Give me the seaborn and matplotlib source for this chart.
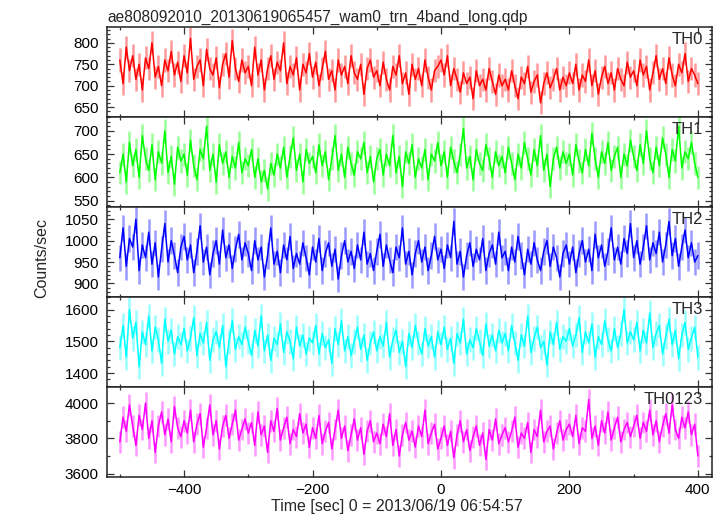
import numpy as np
import pandas as pd
import matplotlib
matplotlib.use("Agg")
import matplotlib.pyplot as plt
from matplotlib.ticker import MultipleLocator
import seaborn as sns

# time bins (sec), 0 = 2013/06/19 06:54:57
time_sec = np.arange(-500, 401, 5)

th0 = [
    760, 705, 790, 735, 770, 715, 750, 690, 765, 740, 800, 720, 745, 700, 760, 735, 780, 725, 755, 710,
    770, 730, 810, 715, 745, 760, 700, 785, 740, 725, 765, 695, 750, 775, 720, 805, 740, 710, 760, 730,
    745, 700, 790, 725, 760, 690, 740, 770, 715, 755, 735, 800, 705, 745, 725, 765, 690, 750, 730, 775,
    720, 755, 700, 740, 780, 715, 735, 690, 760, 725, 745, 705, 770, 730, 715, 750, 680, 740, 760, 720,
    735, 700, 755, 715, 690, 745, 725, 770, 705, 730, 680, 750, 715, 740, 700, 760, 720, 690, 735, 745,
    760, 725, 770, 700, 740, 715, 685, 730, 705, 720, 670, 735, 700, 715, 690, 740, 710, 680, 725, 700,
    715, 690, 735, 700, 670, 720, 705, 745, 685, 710, 725, 660, 705, 730, 695, 715, 740, 690, 720, 700,
    730, 705, 750, 690, 725, 710, 760, 700, 735, 680, 720, 745, 705, 730, 690, 740, 715, 700, 755, 720,
    735, 700, 760, 725, 745, 690, 730, 770, 715, 740, 705, 765, 725, 700, 750, 730, 775, 710, 740, 725,
    705,
]
th1 = [
    610, 650, 590, 675, 625, 660, 600, 690, 640, 615, 670, 595, 655, 630, 700, 610, 645, 585, 665, 635,
    650, 605, 680, 625, 595, 660, 640, 710, 615, 650, 590, 670, 630, 655, 600, 645, 620, 675, 610, 640,
    625, 660, 600, 640, 590, 615, 575, 630, 605, 650, 620, 665, 600, 645, 685, 615, 650, 590, 660, 630,
    645, 610, 670, 625, 655, 595, 640, 690, 615, 650, 600, 665, 630, 605, 655, 640, 675, 610, 645, 590,
    640, 660, 605, 650, 625, 690, 610, 645, 580, 655, 630, 670, 600, 640, 620, 660, 595, 650, 635, 675,
    625, 655, 600, 665, 635, 610, 650, 705, 620, 645, 595, 660, 630, 615, 670, 640, 600, 655, 625, 645,
    610, 665, 630, 595, 650, 620, 675, 640, 605, 660, 625, 690, 615, 650, 580, 640, 665, 620, 655, 630,
    650, 605, 670, 635, 610, 660, 625, 695, 640, 600, 655, 630, 675, 615, 645, 665, 600, 650, 625, 680,
    645, 615, 670, 630, 700, 640, 610, 665, 625, 685, 650, 600, 660, 635, 710, 620, 655, 640, 675, 630,
    600,
]
th2 = [
    960, 1030, 940, 1005, 985, 1050, 930, 990, 960, 1020, 945, 995, 915, 980, 1040, 950, 1000, 965, 925, 985,
    1010, 955, 990, 925, 975, 1035, 950, 985, 920, 970, 1000, 945, 1025, 960, 990, 935, 980, 1015, 955, 995,
    970, 930, 1000, 955, 985, 915, 965, 1030, 945, 975, 925, 990, 955, 1010, 935, 970, 945, 995, 960, 920,
    985, 950, 1005, 930, 970, 995, 940, 980, 910, 965, 1000, 950, 975, 935, 990, 955, 1020, 945, 970, 930,
    975, 1015, 940, 990, 955, 925, 985, 960, 1030, 945, 975, 920, 970, 1000, 950, 985, 930, 965, 1010, 955,
    980, 935, 990, 960, 1045, 945, 975, 915, 965, 995, 940, 980, 955, 1005, 930, 970, 990, 945, 1020, 960,
    975, 930, 985, 950, 1010, 965, 920, 980, 945, 995, 955, 930, 975, 1000, 940, 985, 960, 915, 970, 990,
    945, 985, 925, 970, 1000, 950, 980, 930, 1015, 960, 990, 940, 975, 1030, 955, 985, 945, 1005, 970, 1040,
    960, 1000, 945, 985, 1035, 955, 995, 970, 1020, 950, 990, 1045, 965, 1005, 940, 985, 1025, 960, 995, 950,
    965,
]
th3 = [
    1480, 1550, 1450, 1600, 1510, 1560, 1420, 1530, 1490, 1580, 1470, 1545, 1505, 1430, 1570, 1500, 1535, 1460, 1515, 1490,
    1540, 1470, 1510, 1575, 1455, 1525, 1495, 1560, 1440, 1505, 1530, 1480, 1550, 1420, 1500, 1565, 1475, 1515, 1490, 1545,
    1500, 1455, 1535, 1485, 1580, 1470, 1520, 1440, 1510, 1490, 1555, 1465, 1530, 1500, 1445, 1545, 1485, 1520, 1460, 1510,
    1495, 1550, 1460, 1525, 1480, 1505, 1430, 1540, 1490, 1565, 1470, 1515, 1455, 1500, 1545, 1475, 1520, 1440, 1495, 1530,
    1470, 1515, 1485, 1560, 1450, 1505, 1535, 1465, 1500, 1420, 1525, 1480, 1550, 1495, 1460, 1540, 1485, 1515, 1450, 1530,
    1490, 1545, 1475, 1510, 1430, 1525, 1495, 1570, 1460, 1505, 1480, 1540, 1500, 1455, 1555, 1485, 1520, 1470, 1535, 1495,
    1525, 1470, 1550, 1495, 1440, 1520, 1485, 1580, 1465, 1510, 1545, 1480, 1500, 1425, 1530, 1490, 1560, 1475, 1515, 1500,
    1540, 1485, 1520, 1575, 1465, 1530, 1495, 1555, 1450, 1515, 1490, 1565, 1505, 1470, 1540, 1480, 1525, 1600, 1495, 1530,
    1505, 1560, 1470, 1535, 1495, 1590, 1480, 1525, 1550, 1460, 1515, 1570, 1490, 1535, 1445, 1520, 1560, 1475, 1510, 1545,
    1450,
]
th0123 = [
    3780, 3920, 3840, 3990, 3870, 3760, 3930, 3850, 4000, 3800, 3900, 3720, 3870, 3950, 3820, 3910, 3780, 3980, 3860, 3810,
    3900, 3830, 3960, 3780, 3880, 3940, 3750, 3860, 3990, 3820, 3900, 3740, 3870, 3930, 3800, 3880, 3960, 3790, 3850, 3910,
    3830, 3890, 3760, 3950, 3820, 3870, 3720, 3900, 3840, 3970, 3790, 3860, 3920, 3770, 3850, 3810, 3940, 3830, 3880, 3750,
    3860, 3800, 3930, 3770, 3840, 3890, 3740, 3850, 3960, 3800, 3870, 3730, 3820, 3910, 3790, 3860, 3710, 3840, 3900, 3780,
    3830, 3770, 3880, 3810, 3940, 3760, 3850, 3700, 3820, 3890, 3790, 3840, 3750, 3870, 3810, 3960, 3770, 3830, 3880, 3740,
    3800, 3870, 3760, 3840, 3690, 3820, 3900, 3780, 3850, 3730, 3810, 3870, 3760, 3830, 3680, 3850, 3790, 3910, 3770, 3820,
    3860, 3780, 3840, 3920, 3750, 3830, 3800, 3890, 3720, 3850, 3810, 3960, 3780, 3840, 3870, 3740, 3830, 3900, 3790, 3850,
    3880, 3810, 3930, 3770, 3860, 3840, 4020, 3800, 3870, 3760, 3900, 3830, 3950, 3790, 3860, 3920, 3780, 3850, 3890, 3810,
    3870, 3930, 3800, 3890, 3840, 3960, 3820, 3900, 3780, 3870, 3940, 3830, 3990, 3850, 3800, 3920, 3860, 3950, 3820, 3880,
    3700,
]

band_names = ["TH0", "TH1", "TH2", "TH3", "TH0123"]
band_values = [th0, th1, th2, th3, th0123]
band_errors = [27, 25, 31, 39, 62]  # typical 1-sigma per bin
band_colors = ["#ff0000", "#00ff00", "#0000ff", "#00ffff", "#ff00ff"]
y_limits = [(627, 837), (536, 730), (868, 1079), (1356, 1640), (3581, 4091)]
y_major = [50, 50, 50, 100, 200]
y_minor = [10, 10, 10, 20, 100]

sns.set_style("ticks")
plt.rcParams["font.family"] = ["Liberation Sans", "DejaVu Sans"]

fig = plt.figure(figsize=(7.24, 5.16), dpi=100)
left, width = 107 / 724, 605 / 724
panel_h = 90 / 516
top = 1 - 27 / 516

axes = []
for i, name in enumerate(band_names):
    ax = fig.add_axes([left, top - (i + 1) * panel_h, width, panel_h])
    vals = band_values[i]
    # error bars: light shade around the curve
    ax.errorbar(time_sec, vals, yerr=band_errors[i], fmt="none",
                ecolor=band_colors[i], alpha=0.4, elinewidth=1.8)
    sns.lineplot(x=time_sec, y=vals, ax=ax, color=band_colors[i], linewidth=1.1)
    ax.set_xlim(-520, 422)
    ax.set_ylim(*y_limits[i])
    ax.xaxis.set_major_locator(MultipleLocator(200))
    ax.xaxis.set_minor_locator(MultipleLocator(100))
    ax.yaxis.set_major_locator(MultipleLocator(y_major[i]))
    ax.yaxis.set_minor_locator(MultipleLocator(y_minor[i]))
    ax.tick_params(which="both", direction="in", top=True, right=True, colors="#333333",
                   labelcolor="black", width=0.9)
    ax.tick_params(which="major", length=5)
    ax.tick_params(which="minor", length=2.5)
    ax.tick_params(axis="y", pad=6, labelsize=11)
    ax.tick_params(axis="x", pad=4, labelsize=11)
    for s in ax.spines.values():
        s.set_linewidth(1.1)
        s.set_color("#222222")
    ax.set_xlabel("")
    ax.set_ylabel("")
    ax.text(0.985, 0.95, name, transform=ax.transAxes, ha="right", va="top", fontsize=12)
    if i < len(band_names) - 1:
        ax.tick_params(axis="x", labelbottom=False)
    axes.append(ax)

axes[0].set_title("ae808092010_20130619065457_wam0_trn_4band_long.qdp",
                  loc="left", fontsize=11.2, pad=4)
fig.text(42 / 724, 1 - 258 / 516, "Counts/sec", rotation=90, ha="center", va="center", fontsize=11.5)
fig.text(397 / 724, 1 - 507 / 516, "Time [sec] 0 = 2013/06/19 06:54:57",
         ha="center", va="center", fontsize=11.5)

fig.savefig("out.png", dpi=100)
